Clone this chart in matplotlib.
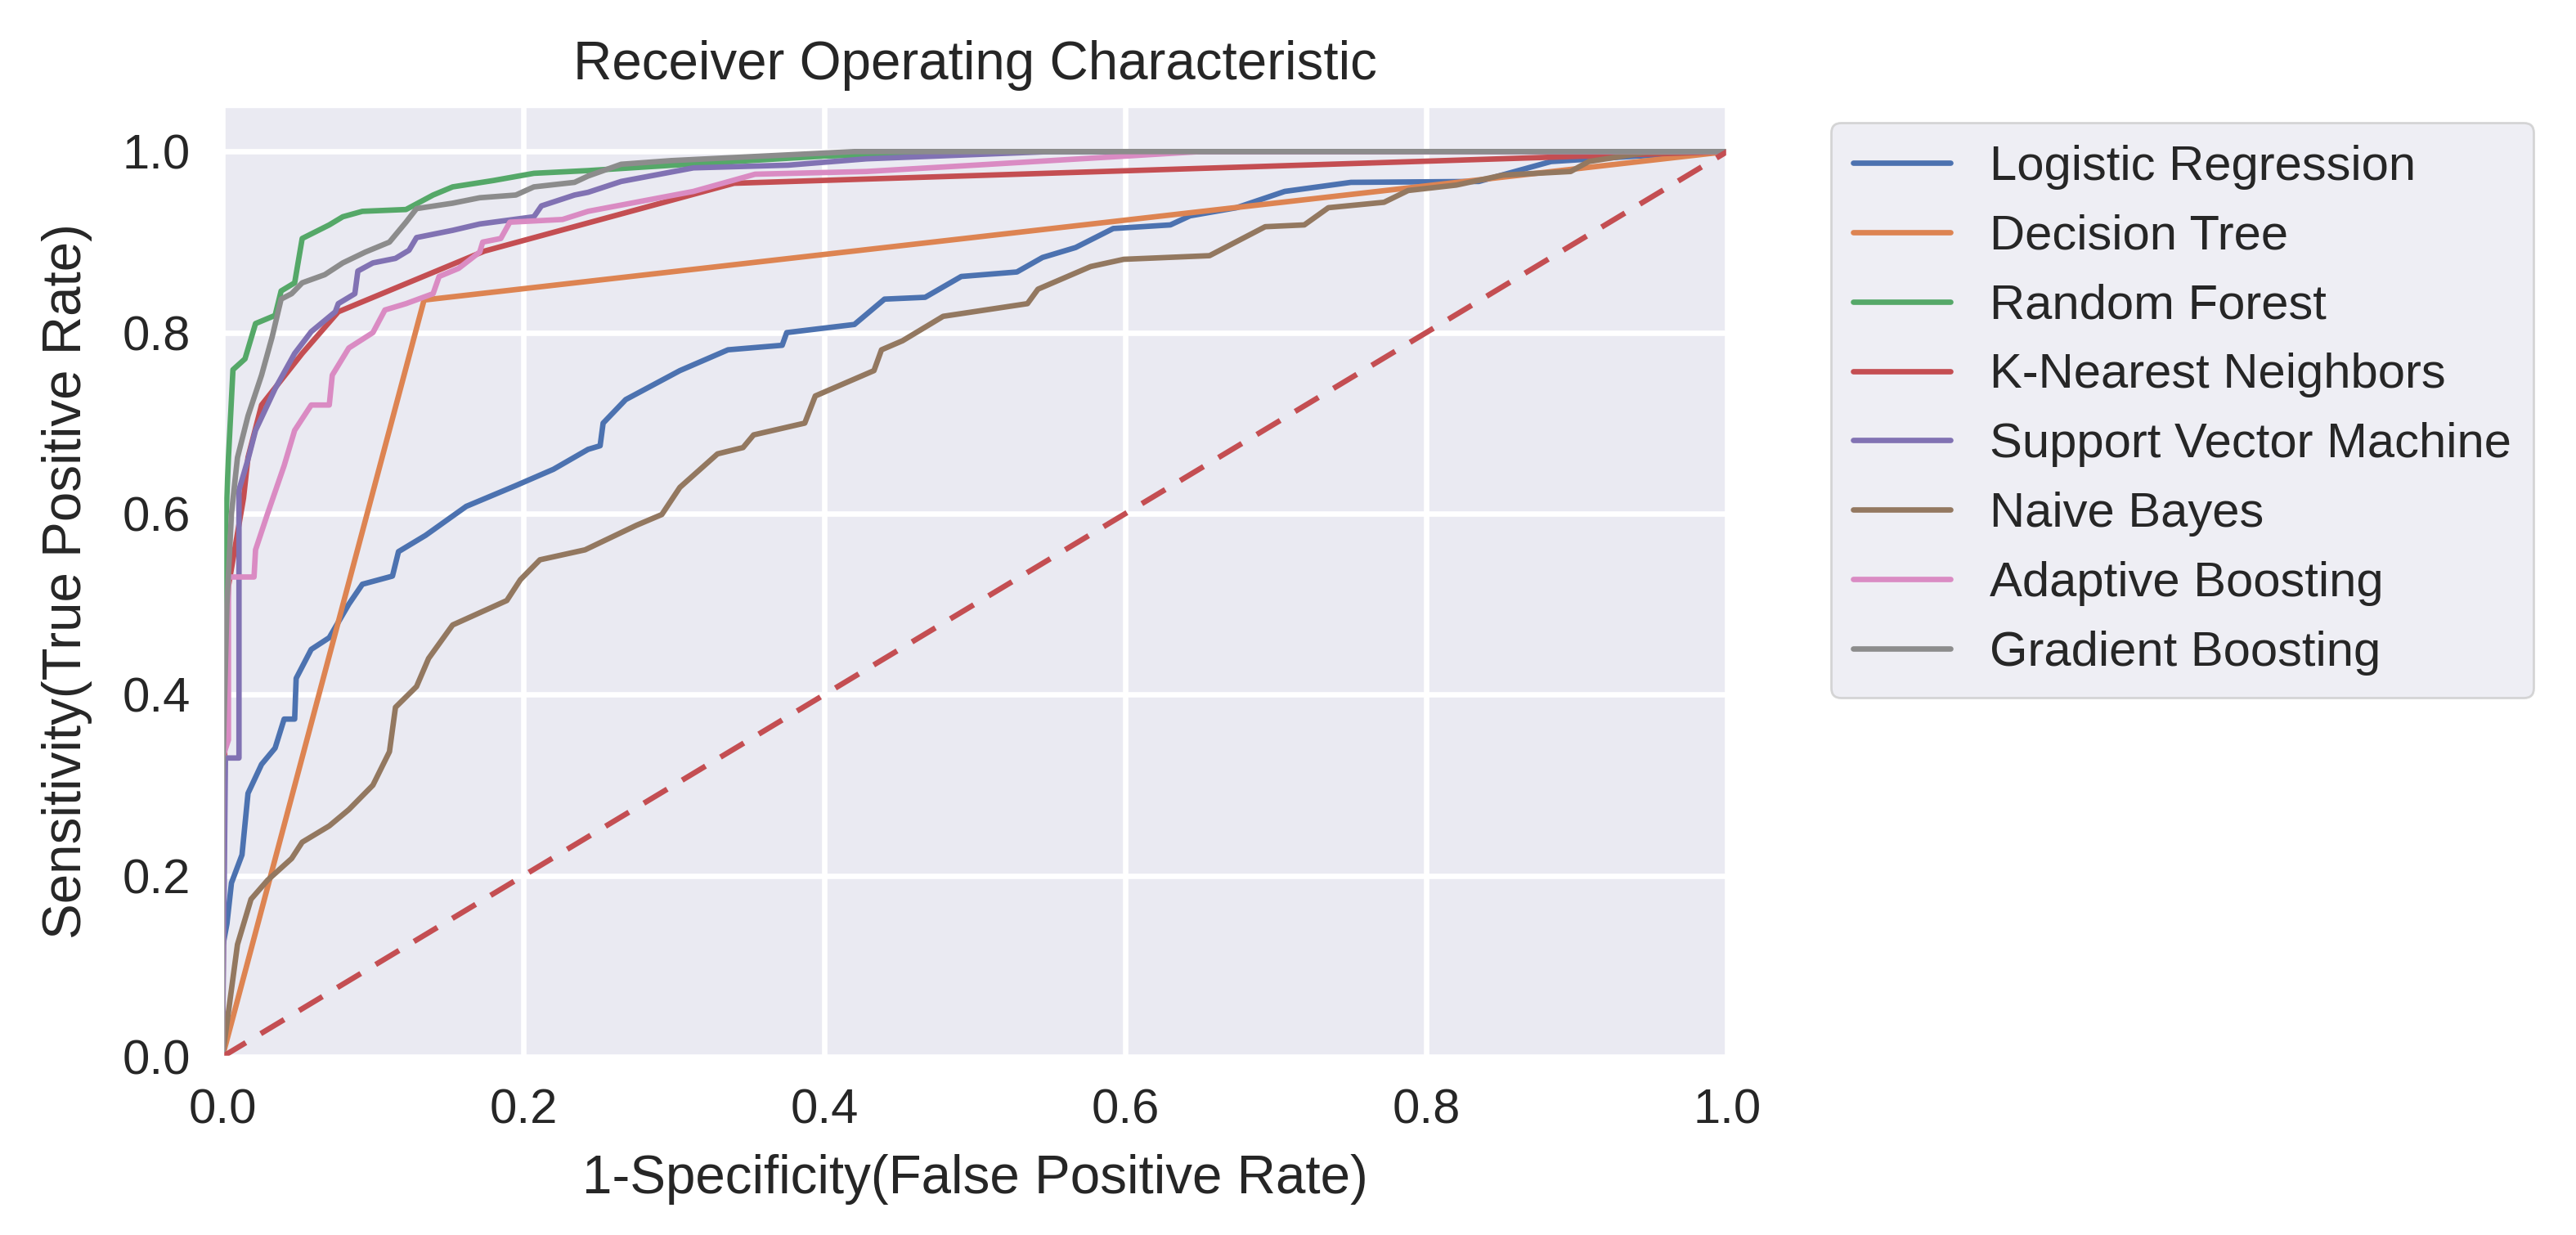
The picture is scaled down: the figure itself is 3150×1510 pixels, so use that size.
import matplotlib
matplotlib.use("Agg")
import matplotlib.pyplot as plt
import seaborn as sns

# ---------------- data ----------------
models = ["Logistic Regression", "Decision Tree", "Random Forest",
          "K-Nearest Neighbors", "Support Vector Machine", "Naive Bayes",
          "Adaptive Boosting", "Gradient Boosting"]

lr_fpr = [0, 0, 0.003, 0.006, 0.013, 0.017, 0.026, 0.035, 0.041, 0.048, 0.049, 0.059,
          0.071, 0.084, 0.093, 0.113, 0.117, 0.135, 0.162, 0.195, 0.22, 0.243, 0.251,
          0.253, 0.268, 0.304, 0.336, 0.372, 0.375, 0.42, 0.44, 0.467, 0.491, 0.528,
          0.545, 0.567, 0.592, 0.63, 0.643, 0.674, 0.706, 0.75, 0.835, 0.883, 0.94, 1.0]
lr_tpr = [0, 0.12, 0.147, 0.192, 0.223, 0.291, 0.323, 0.341, 0.373, 0.373, 0.418, 0.45,
          0.463, 0.50, 0.522, 0.531, 0.558, 0.576, 0.608, 0.631, 0.649, 0.671, 0.675,
          0.70, 0.726, 0.758, 0.781, 0.786, 0.80, 0.809, 0.837, 0.839, 0.862, 0.867,
          0.883, 0.894, 0.915, 0.919, 0.929, 0.938, 0.956, 0.966, 0.967, 0.989, 0.995, 1.0]

dt_fpr = [0, 0.134, 1.0]
dt_tpr = [0, 0.836, 1.0]

rf_fpr = [0, 0, 0.002, 0.004, 0.007, 0.015, 0.022, 0.035, 0.039, 0.048, 0.053, 0.071,
          0.080, 0.093, 0.122, 0.14, 0.153, 0.18, 0.207, 0.243, 0.3, 0.4, 0.5, 1.0]
rf_tpr = [0, 0.45, 0.58, 0.662, 0.759, 0.771, 0.81, 0.819, 0.846, 0.855, 0.904, 0.919,
          0.928, 0.934, 0.936, 0.952, 0.961, 0.968, 0.976, 0.979, 0.985, 0.995, 1.0, 1.0]

knn_fpr = [0, 0.002, 0.004, 0.014, 0.017, 0.026, 0.053, 0.077, 0.174, 0.34, 1.0]
knn_tpr = [0, 0.45, 0.52, 0.617, 0.662, 0.72, 0.777, 0.823, 0.89, 0.965, 1.0]

svm_fpr = [0, 0.002, 0.011, 0.011, 0.017, 0.022, 0.035, 0.048, 0.059, 0.075, 0.077,
           0.088, 0.09, 0.10, 0.115, 0.124, 0.129, 0.153, 0.171, 0.207, 0.212, 0.234,
           0.243, 0.265, 0.313, 0.376, 0.428, 0.55, 1.0]
svm_tpr = [0, 0.33, 0.33, 0.626, 0.66, 0.692, 0.738, 0.777, 0.801, 0.823, 0.832,
           0.843, 0.868, 0.877, 0.882, 0.891, 0.905, 0.913, 0.92, 0.928, 0.94, 0.952,
           0.955, 0.967, 0.982, 0.985, 0.992, 1.0, 1.0]

nb_fpr = [0, 0.01, 0.019, 0.03, 0.046, 0.053, 0.071, 0.084, 0.10, 0.111, 0.115, 0.129,
          0.137, 0.153, 0.189, 0.198, 0.211, 0.241, 0.275, 0.292, 0.304, 0.329, 0.346,
          0.353, 0.387, 0.394, 0.433, 0.438, 0.452, 0.479, 0.535, 0.542, 0.577, 0.599,
          0.656, 0.693, 0.719, 0.735, 0.772, 0.788, 0.82, 0.851, 0.896, 0.908, 0.946, 1.0]
nb_tpr = [0, 0.124, 0.174, 0.195, 0.219, 0.237, 0.255, 0.273, 0.30, 0.337, 0.386, 0.409,
          0.44, 0.477, 0.504, 0.527, 0.549, 0.56, 0.587, 0.599, 0.629, 0.666, 0.673,
          0.687, 0.70, 0.73, 0.758, 0.781, 0.791, 0.818, 0.832, 0.848, 0.873, 0.881,
          0.885, 0.917, 0.919, 0.938, 0.944, 0.957, 0.963, 0.974, 0.978, 0.989, 0.999, 1.0]

ada_fpr = [0, 0, 0.004, 0.004, 0.021, 0.022, 0.03, 0.041, 0.048, 0.059, 0.071, 0.073,
           0.084, 0.10, 0.108, 0.122, 0.14, 0.144, 0.157, 0.171, 0.173, 0.185, 0.191,
           0.226, 0.243, 0.313, 0.354, 0.428, 0.5, 0.6, 0.65, 1.0]
ada_tpr = [0, 0.33, 0.35, 0.53, 0.53, 0.56, 0.6, 0.653, 0.692, 0.72, 0.72, 0.753,
           0.783, 0.80, 0.825, 0.832, 0.843, 0.862, 0.871, 0.889, 0.90, 0.904, 0.922,
           0.925, 0.934, 0.956, 0.975, 0.978, 0.985, 0.995, 1.0, 1.0]

gb_fpr = [0, 0, 0.003, 0.006, 0.01, 0.017, 0.026, 0.033, 0.039, 0.046, 0.053, 0.068,
          0.08, 0.095, 0.111, 0.122, 0.129, 0.153, 0.171, 0.195, 0.207, 0.234, 0.243,
          0.265, 0.298, 0.42, 1.0]
gb_tpr = [0, 0.3, 0.5, 0.6, 0.662, 0.708, 0.753, 0.795, 0.837, 0.843, 0.855, 0.864,
          0.877, 0.889, 0.90, 0.922, 0.937, 0.943, 0.949, 0.952, 0.961, 0.966, 0.973,
          0.986, 0.99, 1.0, 1.0]

fprs = [lr_fpr, dt_fpr, rf_fpr, knn_fpr, svm_fpr, nb_fpr, ada_fpr, gb_fpr]
tprs = [lr_tpr, dt_tpr, rf_tpr, knn_tpr, svm_tpr, nb_tpr, ada_tpr, gb_tpr]

x_ticks = [0.0, 0.2, 0.4, 0.6, 0.8, 1.0]
y_ticks = [0.0, 0.2, 0.4, 0.6, 0.8, 1.0]

# ---------------- styling ----------------
sns.set_theme(style="darkgrid", color_codes=True)
plt.rcParams["font.family"] = ["Liberation Sans", "DejaVu Sans"]

FS_TICK = 21.5
FS_LABEL = 23.6
FS_LEG = 21.5
fig = plt.figure(figsize=(15.75, 7.55), dpi=200)
ax = fig.add_axes([272 / 3150, 1 - 1292 / 1510, (2112 - 272) / 3150, (1292 - 130) / 1510])

palette = sns.color_palette("deep")
for i, (name, f, t) in enumerate(zip(models, fprs, tprs)):
    ax.plot(f, t, color=palette[i], lw=2.4, label=name)

ax.plot([0, 1], [0, 1], "r--", lw=2.4, dashes=(5, 3.2))

ax.set_xlim(0, 1.0)
ax.set_ylim(0, 1.05)
ax.set_xticks(x_ticks)
ax.set_yticks(y_ticks)
ax.tick_params(labelsize=FS_TICK, pad=8)
ax.grid(True, color="white", lw=2.4)
ax.set_title("Receiver Operating Characteristic", fontsize=FS_LABEL, pad=12)
ax.set_xlabel("1-Specificity(False Positive Rate)", fontsize=FS_LABEL, labelpad=9)
ax.set_ylabel("Sensitivity(True Positive Rate)", fontsize=FS_LABEL, labelpad=13)

leg = ax.legend(loc="upper left", bbox_to_anchor=(2239 / 3150, 1 - 150 / 1510),
                bbox_transform=fig.transFigure, borderaxespad=0, fontsize=FS_LEG,
                borderpad=0.45)

fig.savefig("out.png", dpi=200)
